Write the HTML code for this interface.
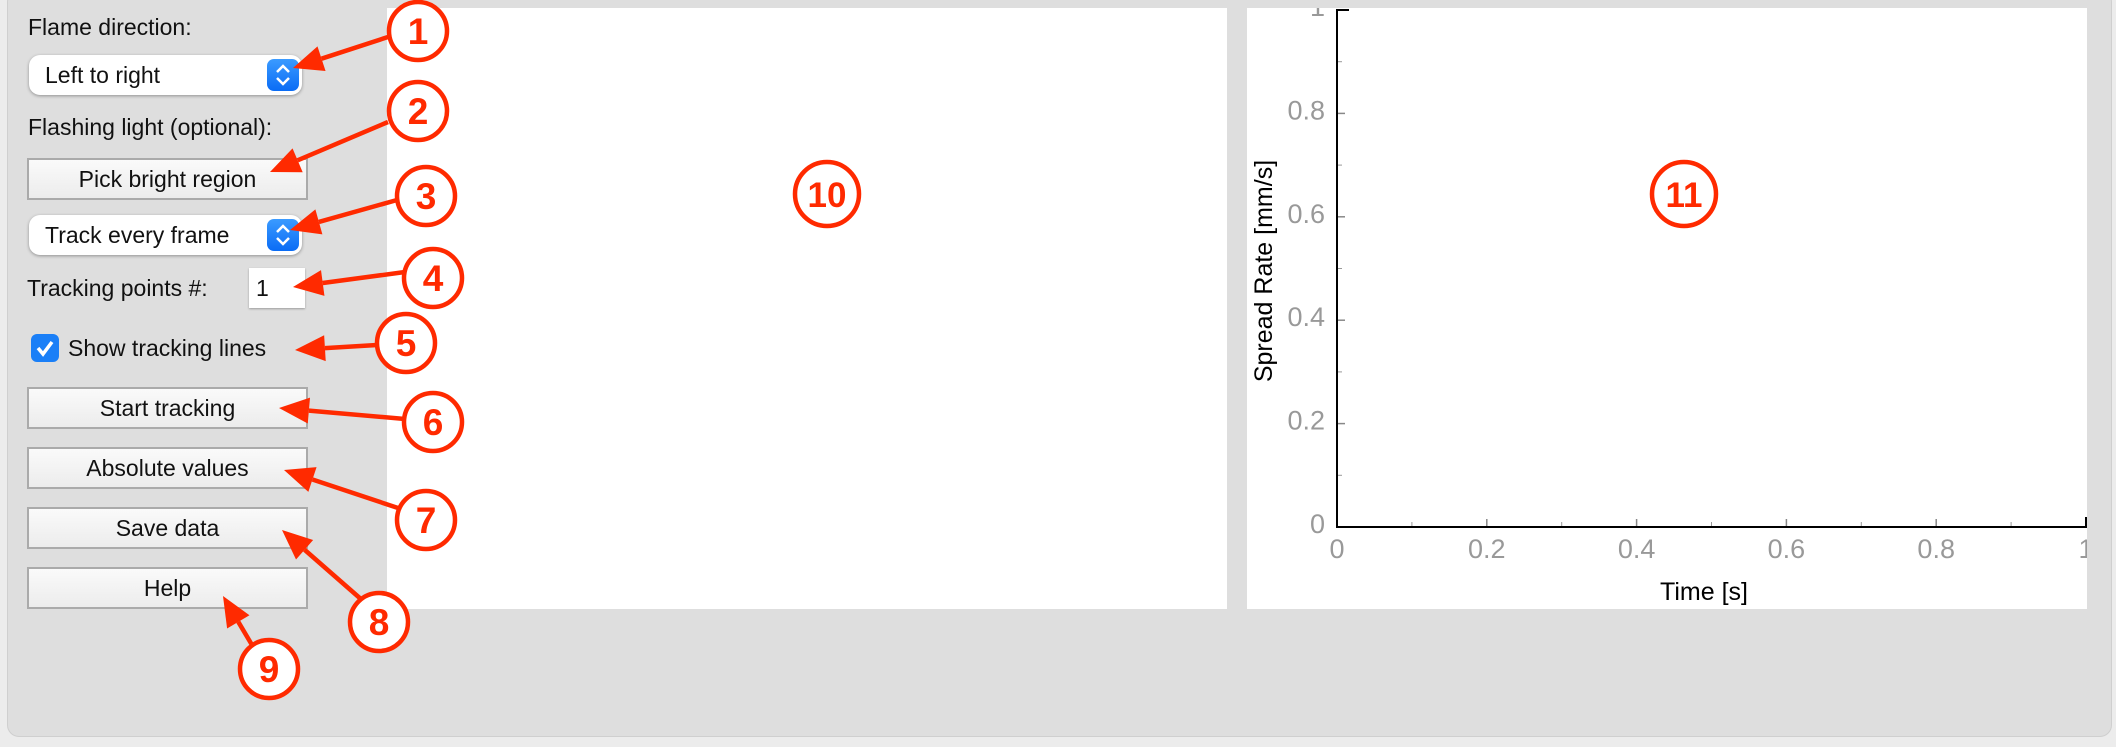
<!DOCTYPE html>
<html><head><meta charset="utf-8">
<style>
html,body{margin:0;padding:0}
body{width:2116px;height:747px;position:relative;overflow:hidden;background:#ececec;font-family:"Liberation Sans",Arial,sans-serif;color:#111}
.win{position:absolute;left:7px;top:-10px;width:2103px;height:745px;background:#dedede;border:1px solid #cfcfcf;border-radius:12px}
.lbl{position:absolute;font-size:23px;white-space:nowrap}
.pop{position:absolute;left:29px;width:273px;height:40px;background:#fff;border-radius:11px;box-shadow:0 1px 3px rgba(0,0,0,.35)}
.pop span{position:absolute;left:16px;top:7px;font-size:23px}
.pop i{position:absolute;right:3px;top:4px;width:32px;height:32px;border-radius:7px;background:linear-gradient(#3b9bff,#0a6cf5)}
.btn{position:absolute;left:27px;width:277px;height:38px;border:2px solid #aaa;background:linear-gradient(#fafafa,#ececec);font-size:23px;text-align:center;line-height:38px}
.panel{position:absolute;background:#fff}
</style></head><body>
<div class="win"></div>
<div class="lbl" style="left:28px;top:14px">Flame direction:</div>
<div class="pop" style="top:55px"><span>Left to right</span><i><svg width="32" height="32"><path d="M10 13l6-6 6 6M10 19l6 6 6-6" stroke="#fff" stroke-width="2.5" fill="none"/></svg></i></div>
<div class="lbl" style="left:28px;top:114px">Flashing light (optional):</div>
<div class="btn" style="top:158px">Pick bright region</div>
<div class="pop" style="top:215px"><span>Track every frame</span><i><svg width="32" height="32"><path d="M10 13l6-6 6 6M10 19l6 6 6-6" stroke="#fff" stroke-width="2.5" fill="none"/></svg></i></div>
<div class="lbl" style="left:27px;top:275px">Tracking points #:</div>
<div style="position:absolute;left:249px;top:268px;width:56px;height:40px;background:#fff;box-shadow:0 1px 2px rgba(0,0,0,.3);font-size:23px;line-height:40px;text-indent:7px">1</div>
<div style="position:absolute;left:31px;top:334px;width:28px;height:28px;border-radius:6px;background:#1a7ff7"><svg width="28" height="28"><path d="M7 14l5 6 9-12" stroke="#fff" stroke-width="3.5" fill="none"/></svg></div>
<div class="lbl" style="left:68px;top:335px">Show tracking lines</div>
<div class="btn" style="top:387px">Start tracking</div>
<div class="btn" style="top:447px">Absolute values</div>
<div class="btn" style="top:507px">Save data</div>
<div class="btn" style="top:567px">Help</div>

<div class="panel" style="left:387px;top:8px;width:840px;height:601px"></div>
<div class="panel" style="left:1247px;top:8px;width:840px;height:601px;overflow:hidden">
<svg id="chart" width="840" height="601" style="position:absolute;left:0;top:0" font-family="Liberation Sans, Arial, sans-serif"></svg>
</div>

<svg id="ann" width="2116" height="747" style="position:absolute;left:0;top:0" font-family="Liberation Sans, Arial, sans-serif"></svg>

<script>
const xTicks=[0,0.2,0.4,0.6,0.8,1];
const yTicks=[0,0.2,0.4,0.6,0.8,1];
const xLabels=["0","0.2","0.4","0.6","0.8","1"];
const yLabels=["0","0.2","0.4","0.6","0.8","1"];
const minorTicks=[0.1,0.3,0.5,0.7,0.9];
const NS="http://www.w3.org/2000/svg";
const svg=document.getElementById('chart');
const ox=1247, oy=8;
const X0=1337-ox, X1=2086-ox, Y0=527-oy, Y1=10-oy;
const sx=v=>X0+(X1-X0)*v, sy=v=>Y0+(Y1-Y0)*v;
function el(t,a,p){const e=document.createElementNS(NS,t);for(const k in a)e.setAttribute(k,a[k]);(p||svg).appendChild(e);return e;}
xTicks.forEach((v,i)=>{
 const t=el('line',{x1:sx(v),x2:sx(v),y1:Y0,y2:Y0-8,stroke:'#888','stroke-width':1.5});
 
 
 const l=el('text',{x:sx(v),y:Y0+31,'text-anchor':'middle','font-size':27,fill:'#999'});
 l.textContent=xLabels[i];
 
 
});
yTicks.forEach((v,i)=>{
 const t=el('line',{x1:X0,x2:X0+8,y1:sy(v),y2:sy(v),stroke:'#888','stroke-width':1.5});
 
 
 const l=el('text',{x:X0-12,y:sy(v)+6,'text-anchor':'end','font-size':27,fill:'#999'});
 l.textContent=yLabels[i];
 
 
});
minorTicks.forEach(v=>{
 const a=el('line',{x1:sx(v),x2:sx(v),y1:Y0,y2:Y0-5,stroke:'#999','stroke-width':1});
 
 
 const b=el('line',{x1:X0,x2:X0+5,y1:sy(v),y2:sy(v),stroke:'#999','stroke-width':1});
 
 
});
const ax=el('path',{d:`M${X0+12} ${Y1}H${X0}V${Y0}H${X1}V${Y0-10}`,stroke:'#000','stroke-width':2,fill:'none'});


const xt=el('text',{x:1704-ox,y:600-oy,'text-anchor':'middle','font-size':25,fill:'#000'});
xt.textContent='Time [s]';


const yt=el('text',{x:0,y:0,'text-anchor':'middle','font-size':25,fill:'#000',transform:`translate(${1272-ox},${271-oy}) rotate(-90)`});
yt.textContent='Spread Rate [mm/s]';



// annotations
const ann=document.getElementById('ann');
const circles=[[1,418,31],[2,418,111],[3,426,196],[4,433,278],[5,406,343],[6,433,422],[7,426,520],[8,379,622],[9,269,669],[10,827,194],[11,1684,194]];
const arrows=[[388,37,293,68],[388,122,270,172],[397,200,290,230],[405,272,293,287],[377,345,295,350],[405,419,279,408],[398,508,284,470],[362,600,282,530],[252,645,223,596]];
const RED='#ff2a00';
arrows.forEach(a=>{
 const [x1,y1,x2,y2]=a;const dx=x2-x1,dy=y2-y1,L=Math.hypot(dx,dy),ux=dx/L,uy=dy/L;
 const bx=x2-ux*30,by=y2-uy*30;
 const g=el('g',{},ann);
 
 
 el('line',{x1:x1,y1:y1,x2:bx,y2:by,stroke:RED,'stroke-width':4.5},g);
 el('polygon',{points:`${x2},${y2} ${bx-uy*13},${by+ux*13} ${bx+uy*13},${by-ux*13}`,fill:RED},g);
});
circles.forEach(c=>{
 const big=c[0]>9;
 const g=el('g',{},ann);
 
 
 el('circle',{cx:c[1],cy:c[2],r:big?32:29,fill:'#fff',stroke:RED,'stroke-width':4.5},g);
 const t=el('text',{x:c[1],y:c[2]+13,'text-anchor':'middle','font-size':big?35:37,'font-weight':'bold',fill:RED},g);
 t.textContent=c[0];
});
</script>
</body></html>
